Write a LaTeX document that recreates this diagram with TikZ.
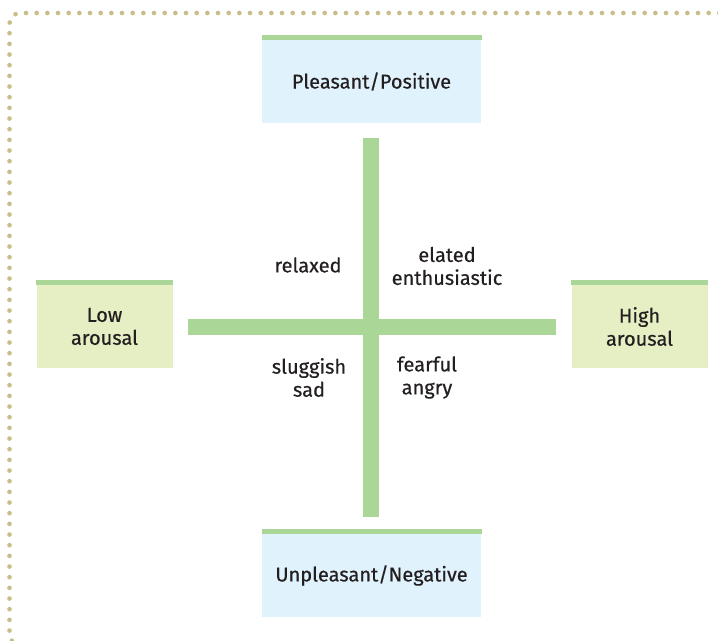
\documentclass[tikz,border=0pt]{standalone}
\usepackage{fontspec}
\setmainfont{Fira Sans}[FakeBold=0.5]
\definecolor{axisgreen}{RGB}{170,214,152}
\definecolor{boxblue}{RGB}{224,242,252}
\definecolor{boxlime}{RGB}{230,238,196}
\definecolor{dotkhaki}{RGB}{200,190,140}
\definecolor{inktext}{RGB}{35,31,32}
\tikzset{every picture/.style={line width=0.75pt}}
\tikzset{
  valencebox/.style={rectangle, fill=boxblue, inner sep=0pt, minimum width=164.25pt, minimum height=62.25pt, text=inktext, font=\fontsize{15}{17.25}\selectfont},
  arousalbox/.style={rectangle, fill=boxlime, inner sep=0pt, minimum width=102pt, minimum height=62.25pt, align=center, text=inktext, font=\fontsize{15}{17.25}\selectfont},
  topbar/.style={draw=axisgreen, line width=3.75pt},
  axisbar/.style={draw=axisgreen, line width=12pt},
  moodtext/.style={anchor=center, inner sep=0.75pt, align=center, text=inktext, font=\fontsize{15}{17.25}\selectfont},
  dotborder/.style={draw=dotkhaki, line width=3.5pt, line cap=round, dash pattern=on 0pt off 8pt, rounded corners=8pt}
}

\begin{document}
\begin{tikzpicture}[x=0.75pt,y=0.75pt,yscale=-1,xscale=1]
\useasboundingbox (0,0) rectangle (718,640);

%Shape: Dotted frame
\draw [dotborder] (730,13) -- (9.5,13) -- (9.5,645) -- (60,645) ;

%Shape: Axes
\coordinate (vtop) at (371,138);
\coordinate (vbot) at (371,517);
\coordinate (hleft) at (188,327);
\coordinate (hright) at (556,327);
\draw [axisbar] (vtop) -- (vbot) ;
\draw [axisbar] (hleft) -- (hright) ;

%Shape: Boxes
\node [valencebox] (pleasant) at (371.5,81.5) {Pleasant/Positive};
\node [valencebox] (unpleasant) at (371.5,575.5) {Unpleasant/Negative};
\node [arousalbox] (low) at (104.5,326.5) {Low\\arousal};
\node [arousalbox] (high) at (639.5,326.5) {High\\arousal};
\foreach \b in {pleasant,unpleasant,low,high}
  \draw [topbar] ([yshift=-1.875pt]\b.north west) -- ([yshift=-1.875pt]\b.north east) ;

% Text Node
\node [moodtext] (relaxed) at (308,265) {relaxed};
% Text Node
\node [moodtext] (elated) at (447,266) {elated\\enthusiastic};
% Text Node
\node [moodtext] (sluggish) at (309,377.5) {sluggish\\sad};
% Text Node
\node [moodtext] (fearful) at (427,377.5) {fearful\\angry};

\end{tikzpicture}
\end{document}
